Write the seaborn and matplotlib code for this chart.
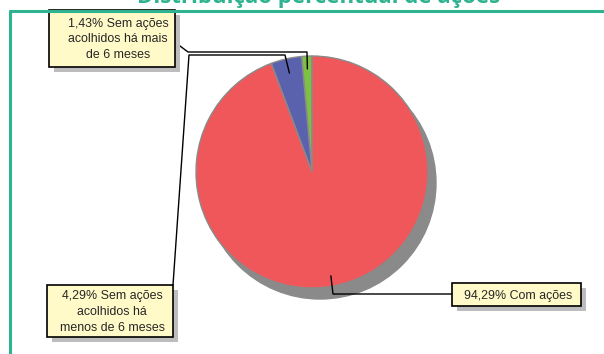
import numpy as np
import seaborn as sns
import matplotlib.pyplot as plt
from matplotlib.patches import Rectangle, Circle

# Data
labels = [
    "1,43% Sem ações\nacolhidos há mais\nde 6 meses",
    "4,29% Sem ações\nacolhidos há\nmenos de 6 meses",
    "94,29% Com ações",
]
shares = [1.43, 4.29, 94.29]
colors = ["#7DC142", "#5B62AD", "#F0575A"]
title = "Distribuição percentual de ações"

sns.set_style("white")
plt.rcParams["font.family"] = ["Liberation Sans", "DejaVu Sans"]

W, H = 604, 354
fig = plt.figure(figsize=(W / 100, H / 100), dpi=100)
ax = fig.add_axes([0, 0, 1, 1])

teal = "#2DB38F"


def py(y):
    # pixel row (from top) to axis y
    return H - y


# pie with shadow
cx, cy, R = 312, py(172), 116
ax.add_patch(Circle((cx + 8, cy - 11), R, color="#8A8A8A", zorder=2))
wedges, _ = ax.pie(shares, colors=colors, startangle=90, counterclock=True,
                   center=(cx, cy), radius=R, frame=True,
                   wedgeprops=dict(edgecolor="#8A8A8A", linewidth=1))
for w in wedges:
    w.set_zorder(3)
ax.set_xlim(0, W)
ax.set_ylim(0, H)
ax.set_aspect("equal")
ax.axis("off")

# frame
ax.plot([9, W], [py(11), py(11)], color=teal, lw=2.2, solid_capstyle="butt", zorder=10)
ax.plot([9.5, 9.5], [py(10), 0], color=teal, lw=2.2, solid_capstyle="butt", zorder=10)

# title (cut off at the top edge)
ax.text(319, py(3), title, ha="center", va="baseline", fontsize=16,
        fontweight="bold", color=teal, family=["Open Sans", "DejaVu Sans"])

# leader end points inside each slice
mids = []
start = 90.0
for s in shares:
    span = 360 * s / sum(shares)
    mids.append(start + span / 2)
    start += span
frac = [0.89, 0.875, 0.91]
ends = [(cx + f * R * np.cos(np.radians(m)), cy + f * R * np.sin(np.radians(m)))
        for f, m in zip(frac, mids)]

lk = dict(color="black", lw=1, zorder=4)
# green leader
ax.plot([176, 188, 307, ends[0][0]], [py(43), py(52), py(52), ends[0][1]], **lk)
# blue leader
ax.plot([173, 189, 285, ends[1][0]], [py(285), py(55), py(55), ends[1][1]], **lk)
# red leader
ax.plot([ends[2][0], 333, 452], [ends[2][1], py(294), py(294)], **lk)

# label boxes: (x0, y0, x1, y1) in pixels from top
boxes = [(49, 10, 175, 67), (47, 285, 173, 337), (452, 283, 581, 306)]
offsets = [(6, 0), (2, 0), (2, 0)]
for (x0, y0, x1, y1), (dx, dy), txt in zip(boxes, offsets, labels):
    ax.add_patch(Rectangle((x0 + 5, py(y1) - 5), x1 - x0, y1 - y0,
                           facecolor="#BDBDBD", edgecolor="none", zorder=5))
    ax.add_patch(Rectangle((x0, py(y1)), x1 - x0, y1 - y0,
                           facecolor="#FFFAC8", edgecolor="black", lw=1.2, zorder=6))
    ax.text((x0 + x1) / 2 + dx, py((y0 + y1) / 2 + 1), txt, ha="center", va="center",
            fontsize=8.9, linespacing=1.4, zorder=7)

fig.savefig("out.png", dpi=100)
